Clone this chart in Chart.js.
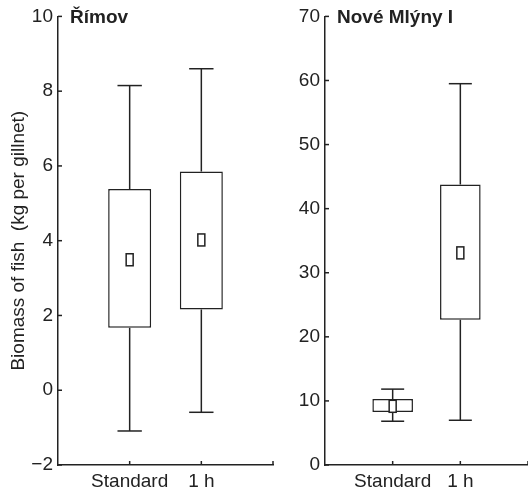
<!DOCTYPE html>
<html>
<head>
<meta charset="utf-8">
<script src="https://cdn.jsdelivr.net/npm/chart.js@4.4.1/dist/chart.umd.min.js"></script>
<style>
  body { margin: 0; background: #fff; width: 528px; height: 493px; position: relative; overflow: hidden; }
  canvas { position: absolute; top: 0; }
  #left { left: 0; }
  #right { left: 264px; }
</style>
</head>
<body>
<canvas id="right" width="264" height="493"></canvas>
<canvas id="left" width="276" height="493"></canvas>
<script>
// categories on the x axis
const categories = ["Standard", "1 h"];
const positions = [1, 2];

// Římov (kg per gillnet)
const rimovMin = [-1.09, -0.59];
const rimovQ1 = [1.67, 2.16];
const rimovQ3 = [5.38, 5.85];
const rimovMax = [8.15, 8.6];
const rimovMean = [3.49, 4.02];
const rimovTicks = [-2, 0, 2, 4, 6, 8, 10];

// Nové Mlýny I (kg per gillnet)
const mlynyMin = [6.83, 6.98];
const mlynyQ1 = [8.28, 22.66];
const mlynyQ3 = [10.3, 43.77];
const mlynyMax = [11.84, 59.5];
const mlynyMean = [9.16, 33.1];
const mlynyTicks = [0, 10, 20, 30, 40, 50, 60, 70];

const INK = "#222";
const FONT = "'Liberation Sans', Arial, sans-serif";

// whiskers, caps, mean markers, inward ticks and panel title
const boxExtras = {
  id: "boxExtras",
  afterDatasetsDraw(chart, args, opts) {
    const { ctx, chartArea } = chart;
    const x = chart.scales.x;
    const y = chart.scales.y;
    const line = (x1, y1, x2, y2) => {
      ctx.beginPath();
      ctx.moveTo(x1, y1);
      ctx.lineTo(x2, y2);
      ctx.stroke();
    };
    ctx.save();
    ctx.strokeStyle = INK;
    ctx.lineWidth = 1.5;
    opts.min.forEach((lo, i) => {
      const px = x.getPixelForValue(positions[i]);
      const half = x.getPixelForValue(positions[i] + 0.17) - px;
      const yMax = y.getPixelForValue(opts.max[i]);
      const yMin = y.getPixelForValue(lo);
      line(px, y.getPixelForValue(opts.q3[i]), px, yMax);
      line(px, y.getPixelForValue(opts.q1[i]), px, yMin);
      line(px - half, yMax, px + half, yMax);
      line(px - half, yMin, px + half, yMin);
      const my = y.getPixelForValue(opts.mean[i]);
      ctx.fillStyle = "#fff";
      ctx.fillRect(px - 3.5, my - 6, 7, 12);
      ctx.strokeRect(px - 3.5, my - 6, 7, 12);
    });
    // ticks point into the plot
    y.ticks.forEach((t) => {
      const py = y.getPixelForValue(t.value);
      line(chartArea.left, py, chartArea.left + 4, py);
    });
    positions.concat([3]).forEach((v) => {
      const px = x.getPixelForValue(v);
      line(px, chartArea.bottom, px, chartArea.bottom - 4);
    });
    ctx.fillStyle = INK;
    ctx.font = "bold 19px " + FONT;
    ctx.textBaseline = "alphabetic";
    ctx.fillText(opts.title, chartArea.left + 12, 23);
    ctx.restore();
  },
};

function makePanel(id, title, lo, q1, q3, hi, mean, ticks, yWidth, padRight, yTitle) {
  return new Chart(document.getElementById(id), {
    type: "bar",
    data: {
      datasets: [
        {
          data: positions.map((p, i) => ({ x: p, y: [q1[i], q3[i]] })),
          backgroundColor: "#fff",
          borderColor: INK,
          borderWidth: 1.5,
          borderSkipped: false,
          barPercentage: 0.6,
          categoryPercentage: 1,
        },
      ],
    },
    options: {
      responsive: false,
      animation: false,
      devicePixelRatio: 1,
      layout: { padding: { top: 14, right: padRight, left: 0, bottom: 0 } },
      plugins: {
        legend: { display: false },
        tooltip: { enabled: false },
        boxExtras: { title, min: lo, q1, q3, max: hi, mean },
      },
      scales: {
        x: {
          type: "linear",
          min: 0,
          max: 3,
          offset: false,
          afterBuildTicks: (s) => { s.ticks = positions.map((v) => ({ value: v })); },
          afterFit: (s) => { s.height = 28; },
          grid: { display: false, drawTicks: false, offset: false },
          border: { display: true, color: INK, width: 1.5 },
          ticks: {
            color: INK,
            padding: 5,
            maxRotation: 0,
            font: { family: FONT, size: 19 },
            callback: (v) => categories[positions.indexOf(v)],
          },
        },
        y: {
          min: ticks[0],
          max: ticks[ticks.length - 1],
          afterBuildTicks: (s) => { s.ticks = ticks.map((v) => ({ value: v })); },
          afterFit: (s) => { s.width = yWidth; },
          grid: { display: false, drawTicks: false },
          border: { display: true, color: INK, width: 1.5 },
          ticks: {
            color: INK,
            padding: 5,
            font: { family: FONT, size: 19 },
            callback: (v) => (v < 0 ? "\u2212" + Math.abs(v) : v),
          },
          title: {
            display: !!yTitle,
            text: yTitle || "",
            color: INK,
            padding: { top: 7, bottom: 0 },
            font: { family: FONT, size: 19 },
          },
        },
      },
    },
    plugins: [boxExtras],
  });
}

makePanel("left", "Římov", rimovMin, rimovQ1, rimovQ3, rimovMax, rimovMean,
  rimovTicks, 58, 3, "Biomass of fish  (kg per gillnet)");
makePanel("right", "Nové Mlýny I", mlynyMin, mlynyQ1, mlynyQ3, mlynyMax, mlynyMean,
  mlynyTicks, 61, 0, "");
</script>
</body>
</html>
